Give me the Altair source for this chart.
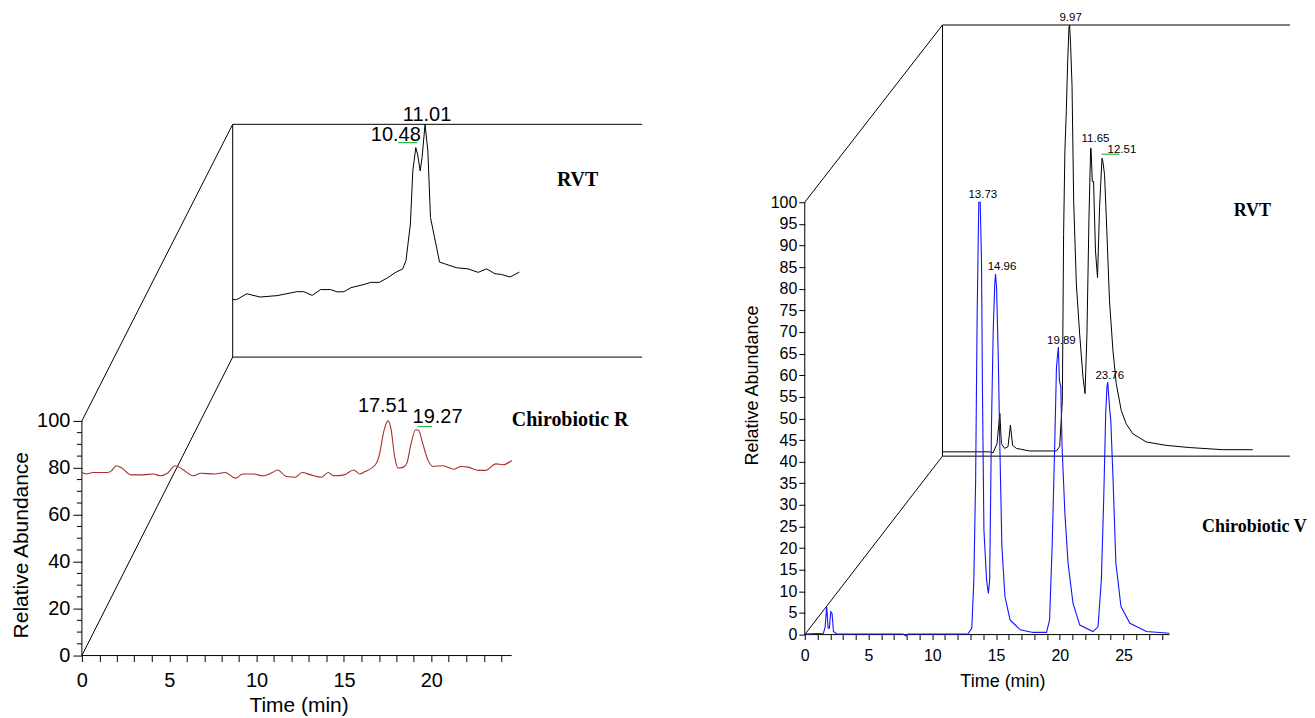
import altair as alt
import pandas as pd

# ---------------- data ----------------
# Left panel, front trace: Chirobiotic R (relative abundance, %)
r_time = [0, 0.24, 0.65, 1.47, 1.67, 1.98, 2.29, 2.8, 3.5, 4.1, 4.5, 4.9, 5.35, 5.75, 6.4, 6.8,
          7.6, 8.2, 8.8, 9.2, 9.8, 10.35, 10.9, 11.2, 11.7, 12.2, 12.6, 13.1, 13.7, 14.1, 14.4,
          15.0, 15.55, 15.9, 16.2, 16.8, 17.0, 17.3, 17.51, 17.7, 17.9, 18.1, 18.4, 18.6, 18.8,
          19.1, 19.27, 19.5, 19.8, 20.1, 20.65, 21.3, 21.7, 22.1, 22.7, 23.1, 23.7, 24.1, 24.6]
r_abund = [78.0, 77.4, 78.0, 78.0, 78.6, 80.9, 79.9, 77.0, 77.0, 77.4, 76.6, 77.7, 80.9, 79.4,
           76.6, 77.7, 77.4, 78.0, 75.6, 77.4, 77.4, 76.6, 78.0, 79.1, 76.3, 76.0, 78.0, 77.0,
           76.0, 78.0, 76.6, 77.0, 79.1, 77.4, 78.4, 81.3, 84.8, 96.2, 100, 96.2, 84.8, 79.9,
           80.3, 82.0, 89.0, 96.2, 96.0, 90.5, 83.4, 80.6, 80.9, 79.4, 80.6, 80.3, 78.9, 78.9,
           81.7, 81.3, 83.1]

# Left panel, back trace: RVT (% of its own scale)
rvt1_time = [0, 0.23, 0.81, 1.57, 2.53, 3.69, 4.07, 4.55, 5.03, 5.6, 5.99, 6.37, 6.76, 7.52,
             7.91, 8.39, 8.87, 9.35, 9.73, 9.92, 10.17, 10.31, 10.48, 10.58, 10.73, 10.84, 11.01,
             11.17, 11.32, 11.55, 11.84, 12.13, 12.8, 13.47, 14.05, 14.53, 15.01, 15.39, 15.87, 16.41]
rvt1_abund = [24.7, 24.7, 27.2, 25.8, 26.4, 28.1, 28.1, 26.5, 29.0, 29.0, 28.0, 28.1, 29.8, 31.2,
              32.1, 32.1, 34.1, 36.5, 37.9, 41.5, 57.2, 80.0, 90.0, 87.2, 80.0, 85.7, 100, 88.6,
              60.0, 51.5, 40.8, 40.1, 38.4, 37.9, 36.4, 37.9, 35.8, 35.5, 34.4, 36.5]

# Right panel, front trace: Chirobiotic V
v_time = [0, 1.46, 1.6, 1.72, 1.83, 1.93, 2.04, 2.14, 2.25, 2.5, 7.7, 7.94, 8.1, 12.8, 13.1,
          13.26, 13.4, 13.52, 13.65, 13.76, 13.86, 13.94, 14.05, 14.26, 14.4, 14.5, 14.65, 14.78,
          14.9, 14.96, 15.04, 15.17, 15.3, 15.46, 15.7, 16.1, 16.9, 17.9, 18.96, 19.2, 19.4, 19.6,
          19.74, 19.89, 19.97, 20.08, 20.18, 20.4, 20.65, 21.04, 21.57, 22.6, 23.0, 23.26, 23.45,
          23.6, 23.7, 23.76, 23.92, 24.0, 24.18, 24.4, 24.8, 25.5, 26.8, 28.6]
v_abund = [0.15, 0.3, 1.8, 6.5, 1.5, 1.5, 5.3, 4.9, 0.7, 0.15, 0.15, -0.3, 0.15, 0.15, 1.5, 12.6,
           35.7, 74.2, 100, 100, 86.5, 55, 24.2, 12.6, 9.5, 12.6, 49.6, 70.4, 81.1, 83.4, 80.4,
           65, 43.4, 20.3, 8.8, 3.4, 1.1, 0.5, 0.5, 3.4, 20.3, 43.4, 61.9, 66.5, 58.8, 57.3, 43.4,
           28, 16.5, 7.2, 2.2, 0.7, 1.8, 12.6, 31.9, 51.1, 57.3, 58.4, 51.9, 49.6, 35.7, 16.5,
           6.5, 2.6, 0.7, 0.3]

# Right panel, back trace: RVT
rvt2_time = [0, 3.7, 3.97, 4.28, 4.5, 4.62, 4.88, 5.14, 5.33, 5.5, 5.8, 6.84, 8.93, 9.19, 9.4,
             9.5, 9.6, 9.71, 9.82, 9.92, 9.97, 10.05, 10.16, 10.29, 10.5, 10.76, 11.02, 11.18,
             11.33, 11.49, 11.62, 11.65, 11.75, 11.85, 12.0, 12.16, 12.32, 12.51, 12.58, 12.71,
             12.85, 13.1, 13.37, 13.63, 14.02, 14.41, 14.93, 15.98, 17.55, 19.37, 21.98, 24.33]
rvt2_abund = [1.0, 1.0, 0.8, 2.9, 9.9, 2.9, 1.8, 2.2, 7.2, 2.5, 1.8, 1.2, 1.2, 2.2, 12.9, 51.4,
              70.7, 79.9, 91.5, 99.5, 100, 95.3, 86.0, 59.1, 39.9, 28.3, 18.3, 14.5, 28.3, 55.3,
              71.4, 71.4, 63.7, 63.7, 47.6, 41.4, 57.6, 69.1, 68.4, 65.3, 55.3, 36.0, 24.5, 16.8,
              10.6, 7.5, 5.2, 3.3, 2.5, 2.0, 1.5, 1.5]

# Peak labels (retention time, peak height)
r_peak_time = [17.51, 19.27]
r_peak_val = [100, 96]
rvt1_peak_time = [10.48, 11.01]
rvt1_peak_val = [90, 100]
v_peak_time = [13.73, 14.96, 19.89, 23.76]
v_peak_val = [100, 83.4, 66.5, 58.4]
rvt2_peak_time = [9.97, 11.65, 12.51]
rvt2_peak_val = [100, 71.4, 69.1]

# ---------------- layout / style ----------------
SANS = "Liberation Sans"
SERIF = "Liberation Serif"

LEFT = dict(px_x=17.5, px_y=2.35, x_end=24.6, box_dx=8.63, box_floor=127.2, box_top=226.4,
            box_right=32.06, width=579, height=648)
RIGHT = dict(px_x=12.77, px_y=4.33, x_end=28.6, box_dx=10.8, box_floor=41.27, box_top=141.0,
             box_right=38.06, width=502, height=627)

# label nudges in pixels: (dx, gap above peak)
LEFT_FRONT_NUDGE = [(-5, 9), (19, 7)]
LEFT_BACK_NUDGE = [(-20, 7), (2, 3)]
RIGHT_FRONT_NUDGE = [(3, 4), (6.5, 3.6), (3, 3), (2, 3.5)]
RIGHT_BACK_NUDGE = [(1, 4), (4.5, 6), (20, 5)]


def back_x(g, t):
    return g["box_dx"] + t


def back_y(g, p):
    return g["box_floor"] + p * (g["box_top"] - g["box_floor"]) / 100.0


def frame_df(g):
    rows = [
        (0, 0, g["x_end"], 0),
        (0, 0, 0, 100),
        (0, 0, g["box_dx"], g["box_floor"]),
        (0, 100, g["box_dx"], g["box_top"]),
        (g["box_dx"], g["box_floor"], g["box_dx"], g["box_top"]),
        (g["box_dx"], g["box_top"], g["box_right"], g["box_top"]),
        (g["box_dx"], g["box_floor"], g["box_right"], g["box_floor"]),
    ]
    return pd.DataFrame(rows, columns=["x", "y", "x2", "y2"])


def label_rows(g, times, vals, nudges, back):
    rows = []
    for t, v, (dx, gap) in zip(times, vals, nudges):
        x = back_x(g, t) if back else t
        y = back_y(g, v) if back else v
        rows.append({"x": x + dx / g["px_x"], "y": y + gap / g["px_y"], "text": f"{t:.2f}"})
    return rows


def build_panel(g, front_t, front_v, front_color, front_interp, back_t, back_v,
                labels, label_size, green, names, name_size, xaxis, yaxis, extra=None):
    xs = alt.Scale(domain=[0, g["width"] / g["px_x"]], nice=False, zero=False)
    ys = alt.Scale(domain=[0, g["height"] / g["px_y"]], nice=False, zero=False)

    def X(f):
        return alt.X(f, type="quantitative", scale=xs, axis=xaxis)

    def Y(f):
        return alt.Y(f, type="quantitative", scale=ys, axis=yaxis)

    frame = alt.Chart(frame_df(g)).mark_rule(color="black", strokeWidth=1).encode(
        x=X("x"), y=Y("y"), x2="x2", y2="y2")

    back_df = pd.DataFrame({"x": [back_x(g, t) for t in back_t],
                            "y": [back_y(g, p) for p in back_v]})
    back = alt.Chart(back_df).mark_line(color="black", strokeWidth=1).encode(x=X("x"), y=Y("y"))

    front_df = pd.DataFrame({"x": front_t, "y": front_v})
    front = alt.Chart(front_df).mark_line(color=front_color, strokeWidth=1.1,
                                          interpolate=front_interp).encode(x=X("x"), y=Y("y"))

    green_df = pd.DataFrame(green, columns=["x", "y", "x2", "y2"])
    greens = alt.Chart(green_df).mark_rule(color="#2DB84C", strokeWidth=1.2).encode(
        x=X("x"), y=Y("y"), x2="x2", y2="y2")

    lab = alt.Chart(pd.DataFrame(labels)).mark_text(
        font=SANS, fontSize=label_size, baseline="alphabetic", align="center", color="black"
    ).encode(x=X("x"), y=Y("y"), text="text:N")

    nm = alt.Chart(pd.DataFrame(names)).mark_text(
        font=SERIF, fontSize=name_size, fontWeight="bold", baseline="middle", align="center",
        color="black").encode(x=X("x"), y=Y("y"), text="text:N")

    layers = [frame, back, front, greens, lab, nm]
    if extra is not None:
        layers.append(extra(X, Y))
    return alt.layer(*layers).properties(width=g["width"], height=g["height"])


# ---------- left panel ----------
left_x_axis = alt.Axis(values=list(range(0, 25)),
                       labelExpr="datum.value % 5 == 0 ? datum.label : ''",
                       tickSize=6, tickColor="black", labelFontSize=20, labelPadding=9,
                       labelFlush=False, labelOverlap=False, domain=False, grid=False,
                       title="Time (min)", titleFontSize=21, titleX=217, titleY=50,
                       titleBaseline="middle", titleAlign="center")
left_y_axis = alt.Axis(values=[0, 20, 40, 60, 80, 100], tickSize=9, tickColor="black",
                       labelFontSize=20, labelPadding=3, labelFlush=False, labelOverlap=False,
                       domain=False, grid=False, title="Relative Abundance", titleFontSize=21,
                       titleX=-60.5, titleY=537, titleAngle=270, titleBaseline="middle",
                       titleAlign="center")

left_labels = (label_rows(LEFT, r_peak_time, r_peak_val, LEFT_FRONT_NUDGE, False)
               + label_rows(LEFT, rvt1_peak_time, rvt1_peak_val, LEFT_BACK_NUDGE, True))

lg1x = back_x(LEFT, rvt1_peak_time[0])
lg1y = back_y(LEFT, rvt1_peak_val[0]) + 5 / LEFT["px_y"]
left_green = [
    (lg1x - 17.5 / LEFT["px_x"], lg1y, lg1x + 1.5 / LEFT["px_x"], lg1y),
    (r_peak_time[1] - 1 / LEFT["px_x"], r_peak_val[1] + 3.8 / LEFT["px_y"],
     r_peak_time[1] + 13.5 / LEFT["px_x"], r_peak_val[1] + 3.8 / LEFT["px_y"]),
]
left_names = [
    {"x": (577.5 - 81) / LEFT["px_x"], "y": (656 - 180) / LEFT["px_y"], "text": "RVT"},
    {"x": (570 - 81) / LEFT["px_x"], "y": (656 - 420) / LEFT["px_y"], "text": "Chirobiotic R"},
]


def left_minor_ticks(X, Y):
    vals = [v for v in range(5, 100, 5) if v % 20 != 0]
    df = pd.DataFrame({"x": [0.0] * len(vals), "x2": [-5 / LEFT["px_x"]] * len(vals), "y": vals})
    return alt.Chart(df).mark_rule(color="black", strokeWidth=1).encode(x=X("x"), x2="x2", y=Y("y"))


left = build_panel(LEFT, r_time, r_abund, "#A62F2F", "monotone", rvt1_time, rvt1_abund,
                   left_labels, 20, left_green, left_names, 20, left_x_axis, left_y_axis,
                   extra=left_minor_ticks)

# ---------- right panel ----------
right_x_axis = alt.Axis(values=list(range(0, 29)),
                        labelExpr="datum.value % 5 == 0 ? datum.label : ''",
                        tickSize=5, tickColor="black", labelFontSize=16, labelPadding=8,
                        labelFlush=False, labelOverlap=False, domain=False, grid=False,
                        title="Time (min)", titleFontSize=18, titleX=198, titleY=47,
                        titleBaseline="middle", titleAlign="center")
right_y_axis = alt.Axis(values=list(range(0, 101, 5)), tickSize=6, tickColor="black",
                        labelFontSize=16, labelPadding=2, labelFlush=False, labelOverlap=False,
                        domain=False, grid=False, title="Relative Abundance", titleFontSize=18,
                        titleX=-52.7, titleY=377, titleAngle=270, titleBaseline="middle",
                        titleAlign="center")

right_labels = (label_rows(RIGHT, v_peak_time, v_peak_val, RIGHT_FRONT_NUDGE, False)
                + label_rows(RIGHT, rvt2_peak_time, rvt2_peak_val, RIGHT_BACK_NUDGE, True))

rg_x = back_x(RIGHT, rvt2_peak_time[2])
rg_y = back_y(RIGHT, rvt2_peak_val[2]) + 4 / RIGHT["px_y"]
right_green = [(rg_x - 0.5 / RIGHT["px_x"], rg_y, rg_x + 17.5 / RIGHT["px_x"], rg_y)]
right_names = [
    {"x": (1253 - 804.7) / RIGHT["px_x"], "y": (634.7 - 210) / RIGHT["px_y"], "text": "RVT"},
    {"x": (1255 - 804.7) / RIGHT["px_x"], "y": (634.7 - 527) / RIGHT["px_y"], "text": "Chirobiotic V"},
]

right = build_panel(RIGHT, v_time, v_abund, "#1414FF", "linear", rvt2_time, rvt2_abund,
                    right_labels, 11.5, right_green, right_names, 18, right_x_axis, right_y_axis)

chart = (alt.hconcat(left, right, spacing=83)
         .properties(padding={"left": 2, "top": 0, "right": 0, "bottom": 0}, background="white")
         .configure_view(stroke=None)
         .configure_axis(labelFont=SANS, titleFont=SANS, labelColor="black", titleColor="black",
                         titleFontWeight="normal"))

chart.save("out.html", embed_options={"renderer": "svg", "actions": False})
